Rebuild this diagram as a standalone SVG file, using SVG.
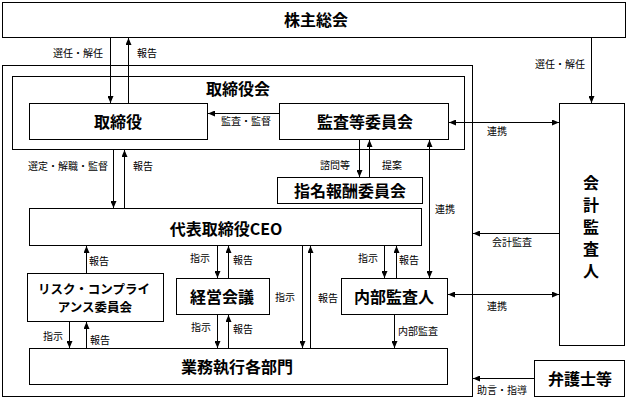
<svg xmlns="http://www.w3.org/2000/svg" width="633" height="399" viewBox="0 0 633 399">
<style>
.box{fill:#fff;stroke:#000;stroke-width:1}
.frame{fill:none;stroke:#000;stroke-width:1}
.n{font-family:"Noto Sans CJK JP","Noto Sans",sans-serif;font-size:16px;font-weight:bold;text-anchor:middle;dominant-baseline:central;fill:#000}
.r{font-size:12.5px}
.s{font-family:"Noto Sans CJK JP","Noto Sans",sans-serif;font-size:10px;dominant-baseline:central;fill:#000}
.c line{stroke:#000;stroke-width:1;fill:none}
</style>
<defs>
<marker id="a" markerUnits="userSpaceOnUse" markerWidth="7" markerHeight="6" refX="7" refY="3" orient="auto-start-reverse">
<path d="M0,0 L7,3 L0,6 z" fill="#000"/>
</marker>
</defs>
<rect width="633" height="399" fill="#fff"/>
<g id="shareholders"><rect class="box" x="2.5" y="2.5" width="623" height="35"/><text class="n" x="316" y="19">株主総会</text></g>
<g id="company"><rect class="frame" x="2.5" y="65.5" width="470" height="331"/></g>
<g id="board"><rect class="frame" x="12.5" y="76.5" width="452" height="73"/><text class="n" x="238" y="88">取締役会</text></g>
<g id="directors"><rect class="box" x="29.5" y="103.5" width="178" height="36"/><text class="n" x="118" y="121">取締役</text></g>
<g id="audit-committee"><rect class="box" x="279.5" y="103.5" width="169" height="36"/><text class="n" x="365" y="121">監査等委員会</text></g>
<g id="nomination"><rect class="box" x="277.5" y="177.5" width="145" height="26"/><text class="n" x="350" y="190">指名報酬委員会</text></g>
<g id="ceo"><rect class="box" x="29.5" y="208.5" width="392" height="37"/><text class="n" x="226" y="228">代表取締役CEO</text></g>
<g id="risk"><rect class="box" x="27.5" y="273.5" width="136" height="48"/><text class="n r" x="94" y="288">リスク・コンプライ</text><text class="n r" x="95" y="306">アンス委員会</text></g>
<g id="management"><rect class="box" x="176.5" y="278.5" width="93" height="36"/><text class="n" x="222" y="296">経営会議</text></g>
<g id="internal-audit"><rect class="box" x="341.5" y="278.5" width="106" height="36"/><text class="n" x="394" y="296">内部監査人</text></g>
<g id="business"><rect class="box" x="29.5" y="348.5" width="418" height="36"/><text class="n" x="237" y="366">業務執行各部門</text></g>
<g id="accounting-auditor"><rect class="box" x="559.5" y="103.5" width="65" height="242"/>
<text class="n" x="591" y="182">会</text><text class="n" x="591" y="204">計</text><text class="n" x="591" y="226">監</text><text class="n" x="591" y="248">査</text><text class="n" x="591" y="270">人</text></g>
<g id="lawyers"><rect class="box" x="534.5" y="360.5" width="90" height="36"/><text class="n" x="580" y="378">弁護士等</text></g>
<g id="connectors" class="c">
<line x1="110.5" y1="38" x2="110.5" y2="103" marker-end="url(#a)"/>
<line x1="128.5" y1="103" x2="128.5" y2="38" marker-end="url(#a)"/>
<line x1="591.5" y1="38" x2="591.5" y2="103" marker-end="url(#a)"/>
<line x1="279" y1="113.5" x2="208" y2="113.5" marker-end="url(#a)"/>
<line x1="449" y1="122.5" x2="559" y2="122.5" marker-start="url(#a)" marker-end="url(#a)"/>
<line x1="113.5" y1="150" x2="113.5" y2="208" marker-end="url(#a)"/>
<line x1="124.5" y1="208" x2="124.5" y2="150" marker-end="url(#a)"/>
<line x1="359.5" y1="140" x2="359.5" y2="177" marker-end="url(#a)"/>
<line x1="369.5" y1="177" x2="369.5" y2="140" marker-end="url(#a)"/>
<line x1="429.5" y1="140" x2="429.5" y2="278" marker-start="url(#a)" marker-end="url(#a)"/>
<line x1="559" y1="233.5" x2="473" y2="233.5" marker-end="url(#a)"/>
<line x1="86.5" y1="273" x2="86.5" y2="246" marker-end="url(#a)"/>
<line x1="217.5" y1="246" x2="217.5" y2="278" marker-end="url(#a)"/>
<line x1="228.5" y1="278" x2="228.5" y2="246" marker-end="url(#a)"/>
<line x1="384.5" y1="246" x2="384.5" y2="278" marker-end="url(#a)"/>
<line x1="396.5" y1="278" x2="396.5" y2="246" marker-end="url(#a)"/>
<line x1="302.5" y1="246" x2="302.5" y2="348" marker-end="url(#a)"/>
<line x1="310.5" y1="348" x2="310.5" y2="246" marker-end="url(#a)"/>
<line x1="217.5" y1="315" x2="217.5" y2="348" marker-end="url(#a)"/>
<line x1="228.5" y1="348" x2="228.5" y2="315" marker-end="url(#a)"/>
<line x1="69.5" y1="322" x2="69.5" y2="348" marker-end="url(#a)"/>
<line x1="86.5" y1="348" x2="86.5" y2="322" marker-end="url(#a)"/>
<line x1="448" y1="294.5" x2="559" y2="294.5" marker-start="url(#a)" marker-end="url(#a)"/>
<line x1="394.5" y1="315" x2="394.5" y2="348" marker-end="url(#a)"/>
<line x1="534" y1="378.5" x2="473" y2="378.5" marker-end="url(#a)"/>
</g>
<g id="labels">
<text class="s" x="53" y="52">選任・解任</text>
<text class="s" x="137" y="52">報告</text>
<text class="s" x="535" y="63">選任・解任</text>
<text class="s" x="221" y="120">監査・監督</text>
<text class="s" x="487" y="130">連携</text>
<text class="s" x="28" y="165">選定・解職・監督</text>
<text class="s" x="133" y="165">報告</text>
<text class="s" x="320" y="164">諮問等</text>
<text class="s" x="382" y="164">提案</text>
<text class="s" x="435" y="208">連携</text>
<text class="s" x="492" y="241">会計監査</text>
<text class="s" x="89" y="260">報告</text>
<text class="s" x="190" y="257">指示</text>
<text class="s" x="233" y="259">報告</text>
<text class="s" x="358" y="257">指示</text>
<text class="s" x="399" y="259">報告</text>
<text class="s" x="275" y="296">指示</text>
<text class="s" x="318" y="297">報告</text>
<text class="s" x="191" y="326">指示</text>
<text class="s" x="233" y="328">報告</text>
<text class="s" x="43" y="335">指示</text>
<text class="s" x="90" y="339">報告</text>
<text class="s" x="487" y="305">連携</text>
<text class="s" x="398" y="330">内部監査</text>
<text class="s" x="477" y="389">助言・指導</text>
</g>
</svg>
